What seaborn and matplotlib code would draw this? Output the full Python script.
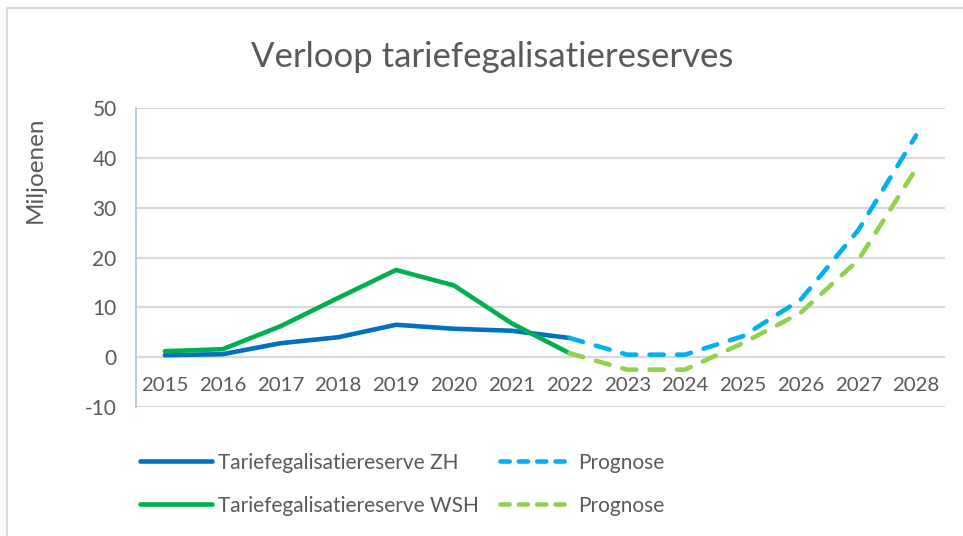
import numpy as np
import pandas as pd
import matplotlib
matplotlib.use("Agg")
import matplotlib.pyplot as plt
from matplotlib.patches import Rectangle
import seaborn as sns

# ======== data ========
years = ["2015", "2016", "2017", "2018", "2019", "2020", "2021", "2022",
         "2023", "2024", "2025", "2026", "2027", "2028"]
zh_actual = [0.4, 0.6, 2.8, 4.0, 6.5, 5.7, 5.3, 3.85]
wsh_actual = [1.2, 1.6, 6.2, 11.9, 17.5, 14.4, 6.8, 0.8]
zh_prognose = [3.85, 0.5, 0.5, 4.2, 11.5, 25.5, 44.5]
wsh_prognose = [0.8, -2.5, -2.5, 2.8, 8.9, 19.5, 37.8]
y_ticks = [-10, 0, 10, 20, 30, 40, 50]

legend_labels = ["Tariefegalisatiereserve ZH", "Tariefegalisatiereserve WSH",
                 "Prognose", "Prognose"]
colors = {"zh": "#0070C0", "wsh": "#00B050", "zh_p": "#00B0F0", "wsh_p": "#92D050"}
text_color = "#595959"

sns.set_theme(style="white")
plt.rcParams["font.family"] = ["Lato", "DejaVu Sans"]

# ======== build long table ========
n_act = len(zh_actual)
act_idx = list(range(n_act))
prog_idx = list(range(n_act - 1, n_act - 1 + len(zh_prognose)))
df = pd.concat([
    pd.DataFrame({"x": act_idx, "v": zh_actual, "s": "zh"}),
    pd.DataFrame({"x": prog_idx, "v": zh_prognose, "s": "zh_p"}),
    pd.DataFrame({"x": act_idx, "v": wsh_actual, "s": "wsh"}),
    pd.DataFrame({"x": prog_idx, "v": wsh_prognose, "s": "wsh_p"}),
])

fig = plt.figure(figsize=(9.63, 5.36), dpi=100)
ax = fig.add_axes([136 / 963, 1 - 407 / 536, (945 - 136) / 963, (407 - 108) / 536])

dash = (0, (3.1, 2.9))
for key in ["zh", "wsh", "zh_p", "wsh_p"]:
    sub = df[df.s == key]
    sns.lineplot(data=sub, x="x", y="v", ax=ax, color=colors[key], lw=3.3,
                 sort=False, estimator=None, legend=False)
    ln = ax.lines[-1]
    ln.set_solid_capstyle("round")
    ln.set_dash_capstyle("round")
    if key.endswith("_p"):
        ln.set_linestyle(dash)

ax.set_xlim(-0.5, len(years) - 0.5)
ax.set_ylim(-10, 50)
ax.set_yticks(y_ticks)
ax.set_yticklabels([str(t) for t in y_ticks], color=text_color, fontsize=15)
ax.set_xticks(range(len(years)))
ax.set_xticklabels([])
ax.tick_params(axis="both", length=0, pad=14)
for i, yr in enumerate(years):
    ax.text(i, -5.6, yr, ha="center", va="center", color=text_color, fontsize=14.7)

ax.grid(axis="y", color="#d9d9d9", lw=1.6)
ax.set_axisbelow(True)
for side in ["top", "right", "bottom"]:
    ax.spines[side].set_visible(False)
ax.spines["left"].set_color("#a9c4eb")
ax.spines["left"].set_linewidth(1.2)
ax.set_xlabel("")
ax.set_ylabel("")

fig.text(35 / 963, 1 - 170 / 536, "Miljoenen", rotation=90, ha="center", va="center",
         color=text_color, fontsize=17.5)
fig.text(492 / 963, 1 - 57 / 536, "Verloop tariefegalisatiereserves", ha="center",
         va="center", color=text_color, fontsize=25)

# ======== legend ========
handles = [
    plt.Line2D([], [], color=colors["zh"], lw=3.3, solid_capstyle="round"),
    plt.Line2D([], [], color=colors["wsh"], lw=3.3, solid_capstyle="round"),
    plt.Line2D([], [], color=colors["zh_p"], lw=3.3, ls=(0, (2.0, 2.0)), dash_capstyle="round"),
    plt.Line2D([], [], color=colors["wsh_p"], lw=3.3, ls=(0, (2.0, 2.0)), dash_capstyle="round"),
]
leg = fig.legend(handles, legend_labels, ncol=2, loc="upper left",
                 bbox_to_anchor=(121 / 963, 1 - 434 / 536), frameon=False,
                 fontsize=15, handlelength=3.45, handletextpad=0.3,
                 columnspacing=1.0, labelspacing=1.1)
for t in leg.get_texts():
    t.set_color(text_color)

fig.patches.append(Rectangle((7 / 963, -0.1), 1.2, 1.1 - 8 / 536,
                             transform=fig.transFigure, fill=False,
                             edgecolor="#d9d9d9", lw=1.5))

fig.savefig("out.png", dpi=100)
